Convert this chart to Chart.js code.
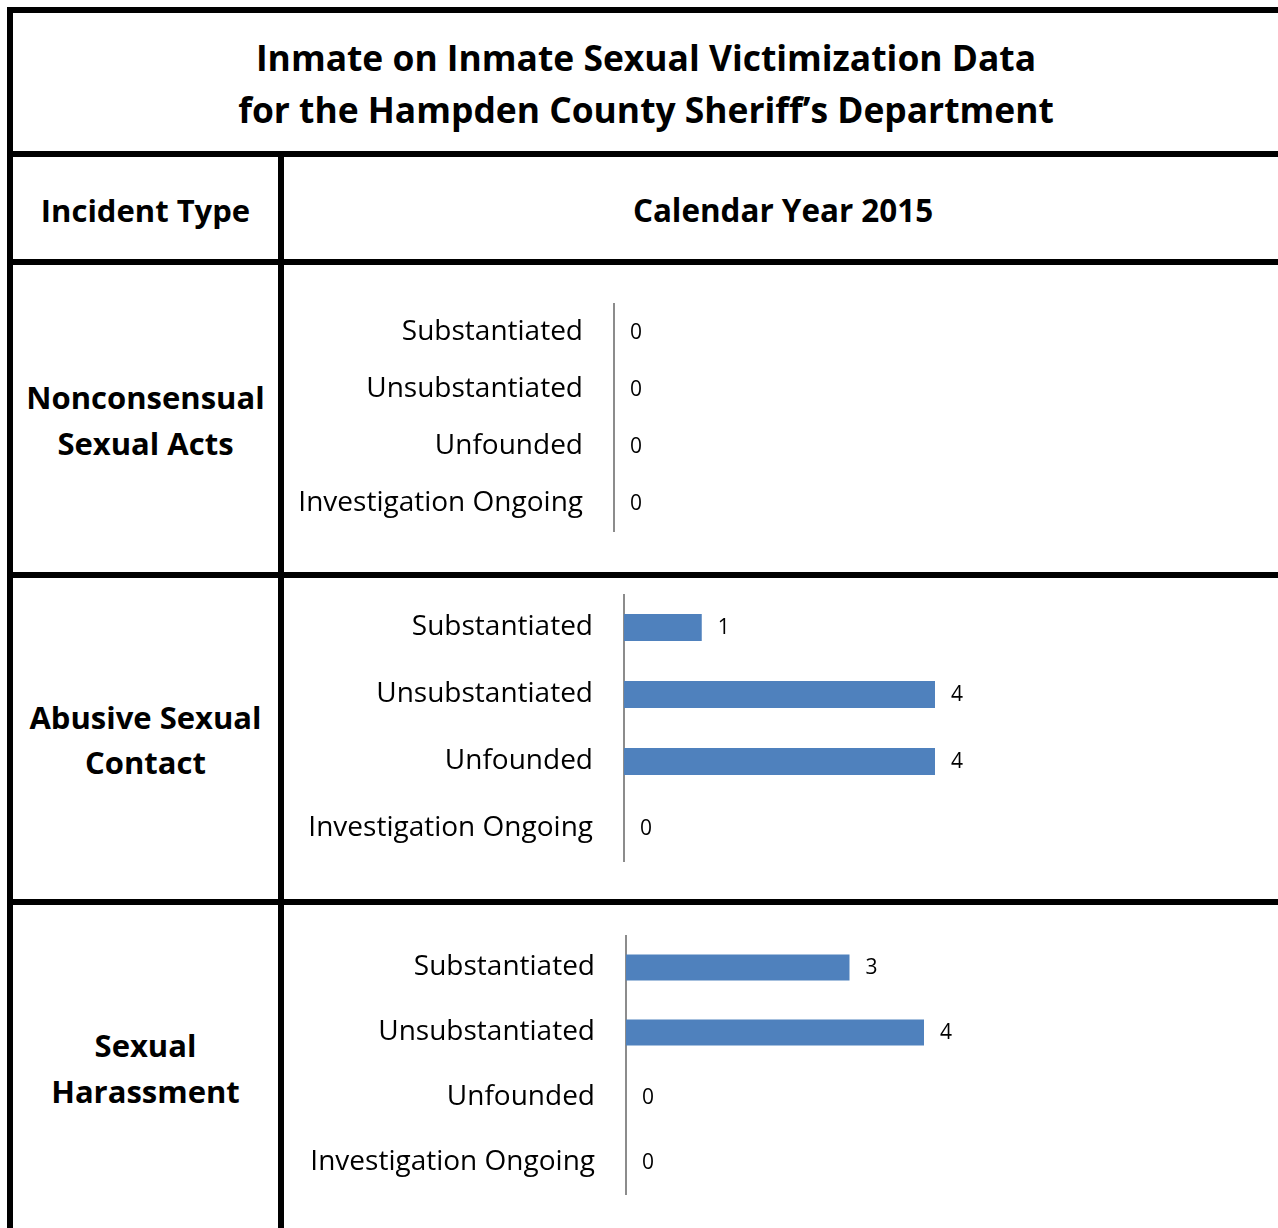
<!DOCTYPE html>
<html lang="en">
<head>
<meta charset="UTF-8">
<title>Inmate on Inmate Sexual Victimization Data</title>
<script src="https://cdn.jsdelivr.net/npm/chart.js"></script>
<style>
    html, body { margin: 0; padding: 0; background: #fff; overflow: hidden; }
    body { width: 1278px; height: 1228px; position: relative; font-family: "Open Sans", sans-serif; color: #000; }
    .ln { position: absolute; background: #000; }
    .txt { position: absolute; text-align: center; font-weight: bold; white-space: nowrap; font-size: 31px; }
    .box { position: absolute; }
</style>
</head>
<body>
    <!-- table rules -->
    <div class="ln" style="left:7px; top:7px; width:1290px; height:6px;"></div>
    <div class="ln" style="left:7px; top:7px; width:6px; height:1240px;"></div>
    <div class="ln" style="left:7px; top:151px; width:1290px; height:6px;"></div>
    <div class="ln" style="left:278px; top:151px; width:6px; height:1100px;"></div>
    <div class="ln" style="left:7px; top:259px; width:1290px; height:6px;"></div>
    <div class="ln" style="left:7px; top:572px; width:1290px; height:6px;"></div>
    <div class="ln" style="left:7px; top:899px; width:1290px; height:6px;"></div>

    <div class="txt" style="left:13px; width:1266px; top:31px; line-height:52px; font-size:35.4px;">
        Inmate on Inmate Sexual Victimization Data<br>for the Hampden County Sheriff’s Department
    </div>
    <div class="txt" style="left:13px; width:265px; top:187px; line-height:46px;">Incident Type</div>
    <div class="txt" style="left:284px; width:998px; top:187px; line-height:46px; font-size:31.4px;">Calendar Year 2015</div>

    <div class="txt" style="left:13px; width:265px; top:374px; line-height:46px;">Nonconsensual<br>Sexual Acts</div>
    <div class="txt" style="left:13px; width:265px; top:695px; line-height:45px;">Abusive Sexual<br>Contact</div>
    <div class="txt" style="left:13px; width:265px; top:1022px; line-height:46px;">Sexual<br>Harassment</div>

    <div class="box" id="b1" style="left:285px; top:303px; width:961px; height:229px;"><canvas id="c1"></canvas></div>
    <div class="box" id="b2" style="left:285px; top:594px; width:961px; height:268px;"><canvas id="c2"></canvas></div>
    <div class="box" id="b3" style="left:285px; top:935px; width:937px; height:260px;"><canvas id="c3"></canvas></div>

<script>
    // outcome categories (same for every incident type)
    const outcomes = ['Substantiated', 'Unsubstantiated', 'Unfounded', 'Investigation Ongoing'];

    // counts for calendar year 2015
    const nonconsensualActs = [0, 0, 0, 0];
    const abusiveContact = [1, 4, 4, 0];
    const sexualHarassment = [3, 4, 0, 0];

    const valueMax = 8;
    const barColor = '#4F81BD';

    // writes the count just past the end of each bar
    const valueLabels = {
        id: 'valueLabels',
        afterDatasetsDraw(chart) {
            const ctx = chart.ctx;
            const meta = chart.getDatasetMeta(0);
            ctx.save();
            ctx.font = '21px "Open Sans"';
            ctx.fillStyle = '#000';
            ctx.textAlign = 'left';
            ctx.textBaseline = 'middle';
            meta.data.forEach((bar, i) => {
                ctx.fillText(String(chart.data.datasets[0].data[i]), bar.x + 16, bar.y + 1);
            });
            ctx.restore();
        }
    };

    function drawChart(id, values, axisWidth) {
        new Chart(document.getElementById(id), {
            type: 'bar',
            data: {
                labels: outcomes,
                datasets: [{
                    data: values,
                    backgroundColor: barColor,
                    borderWidth: 0,
                    barPercentage: 0.4,
                    categoryPercentage: 1
                }]
            },
            options: {
                indexAxis: 'y',
                responsive: true,
                maintainAspectRatio: false,
                animation: false,
                layout: { padding: 0 },
                plugins: { legend: { display: false }, tooltip: { enabled: false } },
                scales: {
                    x: { display: false, min: 0, max: valueMax },
                    y: {
                        grid: { display: false, drawTicks: false },
                        border: { display: true, color: '#8c8c8c', width: 2 },
                        ticks: {
                            color: '#000',
                            padding: 31,
                            font: { family: 'Open Sans', size: 28 }
                        },
                        afterFit(scale) {
                            scale.width = axisWidth;
                            scale.paddingTop = 0;
                            scale.paddingBottom = 0;
                        }
                    }
                }
            },
            plugins: [valueLabels]
        });
    }

    drawChart('c1', nonconsensualActs, 329);
    drawChart('c2', abusiveContact, 339);
    drawChart('c3', sexualHarassment, 341);
</script>
</body>
</html>
